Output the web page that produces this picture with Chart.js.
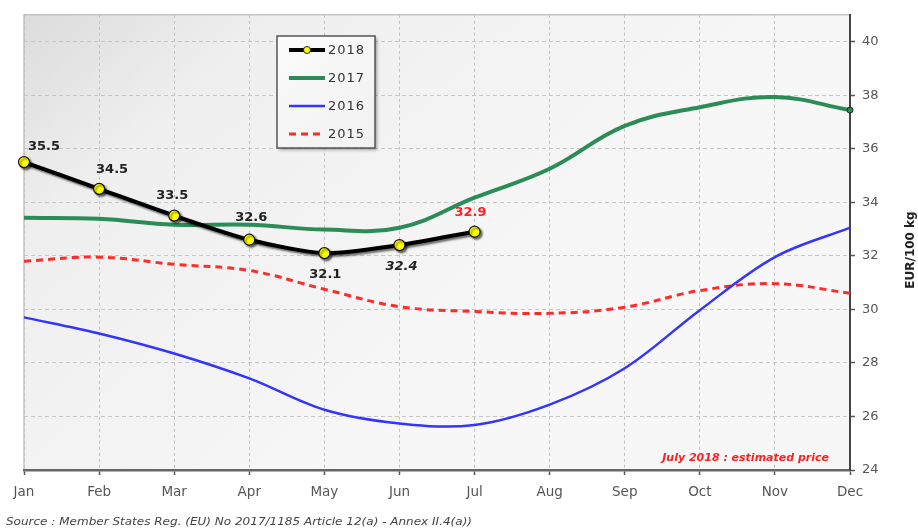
<!DOCTYPE html>
<html>
<head>
<meta charset="utf-8">
<script src="https://cdn.jsdelivr.net/npm/chart.js@4/dist/chart.umd.min.js"></script>
<style>
  html, body { margin: 0; padding: 0; background: #ffffff; }
  #wrap { width: 918px; height: 532px; }
</style>
</head>
<body>
<div id="wrap"><canvas id="c" width="918" height="532"></canvas></div>
<script>
// Monthly prices, EUR/100 kg
const months = ['Jan', 'Feb', 'Mar', 'Apr', 'May', 'Jun', 'Jul', 'Aug', 'Sep', 'Oct', 'Nov', 'Dec'];
const price2018 = [35.5, 34.5, 33.5, 32.6, 32.1, 32.4, 32.9];
const price2017 = [33.42, 33.38, 33.16, 33.16, 32.98, 33.05, 34.17, 35.25, 36.85, 37.55, 37.93, 37.44];
const price2016 = [29.7, 29.1, 28.35, 27.42, 26.25, 25.74, 25.68, 26.44, 27.8, 29.97, 31.95, 33.05];
const price2015 = [31.8, 31.95, 31.68, 31.45, 30.75, 30.1, 29.92, 29.85, 30.08, 30.7, 30.96, 30.6];
const yTicks = [24, 26, 28, 30, 32, 34, 36, 38, 40];

// Label placement for the 2018 values (offsets from the point, in px)
const labelOffsets2018 = [[20, -15], [13, -19], [-2, -20], [2, -22], [1, 22], [2, 22], [-4, -19]];

const FONT = '"DejaVu Sans", Verdana, sans-serif';

const plotBackground = {
  id: 'plotBackground',
  beforeDraw(chart) {
    const { ctx, chartArea: a } = chart;
    ctx.save();
    const g = ctx.createLinearGradient(a.left, a.top, a.left + 380, a.top + 420);
    g.addColorStop(0, '#dcdcdc');
    g.addColorStop(0.3, '#efefef');
    g.addColorStop(1, '#f7f7f7');
    ctx.fillStyle = g;
    ctx.fillRect(a.left, a.top, a.right - a.left, a.bottom - a.top);
    // light frame on top and left
    ctx.strokeStyle = '#c4c4c4';
    ctx.lineWidth = 1.5;
    ctx.beginPath();
    ctx.moveTo(a.left, a.bottom);
    ctx.lineTo(a.left, a.top);
    ctx.lineTo(a.right, a.top);
    ctx.stroke();
    ctx.restore();
  }
};

const lineShadow = {
  id: 'lineShadow',
  beforeDatasetDraw(chart, args) {
    if (args.index !== 0) return;
    const ctx = chart.ctx;
    ctx.save();
    ctx.shadowColor = 'rgba(0,0,0,0.55)';
    ctx.shadowBlur = 2;
    ctx.shadowOffsetX = 2;
    ctx.shadowOffsetY = 2;
  },
  afterDatasetDraw(chart, args) {
    if (args.index !== 0) return;
    chart.ctx.restore();
  }
};

const annotations = {
  id: 'annotations',
  afterDatasetsDraw(chart) {
    const { ctx } = chart;
    ctx.save();

    // value labels on the 2018 series
    const meta = chart.getDatasetMeta(0);
    ctx.textAlign = 'center';
    ctx.textBaseline = 'middle';
    meta.data.forEach((pt, i) => {
      const [dx, dy] = labelOffsets2018[i];
      const last = i === price2018.length - 1;
      const italic = i === 5;
      ctx.font = (italic ? 'italic ' : '') + 'bold 13px ' + FONT;
      ctx.fillStyle = last ? '#ff1f1f' : '#222222';
      ctx.fillText(price2018[i].toFixed(1), pt.x + dx, pt.y + dy);
    });

    // note about the latest month
    ctx.font = 'italic bold 11px ' + FONT;
    ctx.fillStyle = '#ff1f1f';
    ctx.textAlign = 'right';
    ctx.fillText('July 2018 : estimated price', 829, 458);

    // legend box
    const lx = 277, ly = 36, lw = 98, lh = 112;
    ctx.save();
    ctx.shadowColor = 'rgba(0,0,0,0.35)';
    ctx.shadowBlur = 3;
    ctx.shadowOffsetX = 2;
    ctx.shadowOffsetY = 2;
    const lg = ctx.createLinearGradient(lx, ly, lx + lw, ly + lh);
    lg.addColorStop(0, '#fbfbfb');
    lg.addColorStop(1, '#f1f1f1');
    ctx.fillStyle = lg;
    ctx.fillRect(lx, ly, lw, lh);
    ctx.restore();
    ctx.strokeStyle = '#555555';
    ctx.lineWidth = 1.5;
    ctx.strokeRect(lx, ly, lw, lh);

    const rows = [50, 78, 106, 134];
    chart.data.datasets.forEach((ds, i) => {
      const y = rows[i];
      ctx.save();
      ctx.strokeStyle = ds.borderColor;
      ctx.lineWidth = ds.borderWidth;
      ctx.setLineDash(ds.borderDash || []);
      ctx.beginPath();
      ctx.moveTo(289, y);
      ctx.lineTo(325, y);
      ctx.stroke();
      ctx.restore();
      if (i === 0) {
        ctx.beginPath();
        ctx.arc(307, y, 3.5, 0, Math.PI * 2);
        ctx.fillStyle = '#ffff00';
        ctx.fill();
        ctx.lineWidth = 1;
        ctx.strokeStyle = '#222';
        ctx.stroke();
      }
      ctx.font = '13px ' + FONT;
      ctx.fillStyle = '#333333';
      ctx.textAlign = 'left';
      ctx.textBaseline = 'middle';
      ctx.letterSpacing = '1px';
      ctx.fillText(ds.label, 328, y + 1);
      ctx.letterSpacing = '0px';
    });

    // axis title on the right
    ctx.save();
    ctx.translate(911, 250);
    ctx.rotate(-Math.PI / 2);
    ctx.font = 'bold 12px ' + FONT;
    ctx.fillStyle = '#222222';
    ctx.textAlign = 'center';
    ctx.textBaseline = 'middle';
    ctx.fillText('EUR/100 kg', 0, 0);
    ctx.restore();

    // source line
    const src = 'Source : Member States Reg. (EU) No 2017/1185 Article 12(a) - Annex II.4(a))';
    ctx.font = 'italic 11px ' + FONT;
    ctx.fillStyle = '#444444';
    ctx.textAlign = 'left';
    ctx.textBaseline = 'middle';
    const w = ctx.measureText(src).width;
    ctx.save();
    ctx.translate(6, 522);
    ctx.scale(466 / w, 1);
    ctx.fillText(src, 0, 0);
    ctx.restore();

    ctx.restore();
  }
};

new Chart(document.getElementById('c'), {
  type: 'line',
  data: {
    labels: months,
    datasets: [
      {
        label: '2018',
        data: price2018,
        borderColor: '#000000',
        borderWidth: 4,
        tension: 0.25,
        pointRadius: 5.5,
        pointBackgroundColor: '#ffff00',
        pointBorderColor: '#111111',
        pointBorderWidth: 1.2
      },
      {
        label: '2017',
        data: price2017,
        borderColor: '#2b8c58',
        borderWidth: 4,
        tension: 0.4,
        pointRadius: price2017.map((v, i) => (i === price2017.length - 1 ? 3 : 0)),
        pointBackgroundColor: '#2b8c58',
        pointBorderColor: '#222222',
        pointBorderWidth: 1
      },
      {
        label: '2016',
        data: price2016,
        borderColor: '#3434ff',
        borderWidth: 2.5,
        tension: 0.35,
        pointRadius: 0
      },
      {
        label: '2015',
        data: price2015,
        borderColor: '#ff2b2b',
        borderWidth: 3,
        borderDash: [7, 5],
        tension: 0.4,
        pointRadius: 0
      }
    ]
  },
  options: {
    responsive: false,
    animation: false,
    layout: { padding: { left: 24, top: 13, right: 0, bottom: 0 } },
    plugins: { legend: { display: false }, tooltip: { enabled: false } },
    scales: {
      x: {
        offset: false,
        afterFit(scale) { scale.height = 62; },
        grid: {
          color: '#c2c2c2',
          lineWidth: 1,
          drawTicks: true,
          tickLength: 5,
          tickColor: '#555555',
          tickWidth: 1.5,
          tickBorderDash: []
        },
        border: { display: true, color: '#666666', width: 2.5, dash: [3, 3] },
        ticks: {
          color: '#555555',
          font: { family: FONT, size: 13.5 },
          padding: 9,
          maxRotation: 0,
          autoSkip: false
        }
      },
      y: {
        position: 'right',
        min: 24,
        max: 41,
        afterFit(scale) { scale.width = 68; },
        afterBuildTicks(scale) { scale.ticks = yTicks.map(v => ({ value: v })); },
        grid: {
          color: '#c6c6c6',
          lineWidth: 1,
          drawTicks: true,
          tickLength: 5,
          tickColor: '#555555',
          tickWidth: 1.5,
          tickBorderDash: []
        },
        border: { display: true, color: '#444444', width: 2, dash: [4, 3] },
        ticks: {
          color: '#555555',
          font: { family: FONT, size: 13 },
          padding: 7
        }
      }
    }
  },
  plugins: [plotBackground, lineShadow, annotations]
});
</script>
</body>
</html>
